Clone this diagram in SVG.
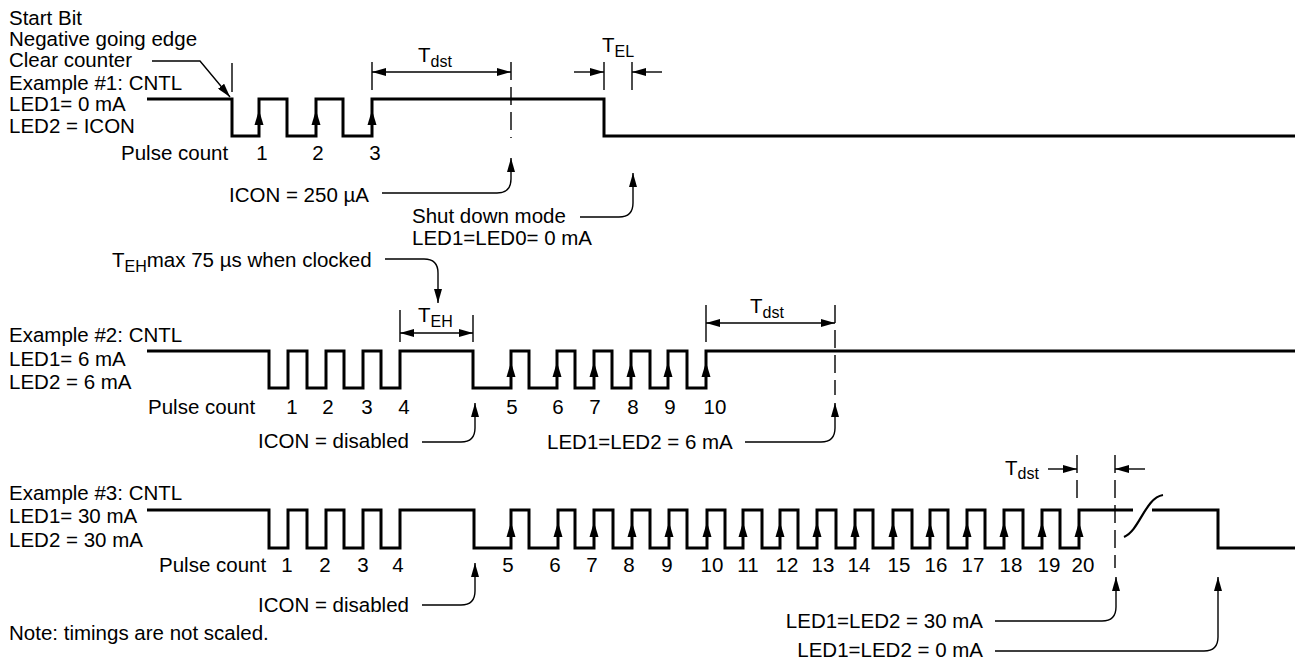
<svg xmlns="http://www.w3.org/2000/svg" width="1299" height="660" viewBox="0 0 1299 660">
<style>
text{font-family:"Liberation Sans",Arial,sans-serif;font-size:20.5px;fill:#000}
.sub{font-size:16px}
.num{text-anchor:middle}
.end{text-anchor:end}
.sig{fill:none;stroke:#000;stroke-width:3;stroke-linejoin:miter}
.thin{fill:none;stroke:#000;stroke-width:1.4}
.dash{fill:none;stroke:#000;stroke-width:1.4;stroke-dasharray:18 7}
.conn{fill:none;stroke:#000;stroke-width:1.4;marker-end:url(#ah)}
.dim{fill:none;stroke:#000;stroke-width:1.4;marker-start:url(#ah);marker-end:url(#ah)}
</style>
<defs>
<marker id="ah" viewBox="0 0 14 8" refX="14" refY="4" markerWidth="14" markerHeight="8" markerUnits="userSpaceOnUse" orient="auto-start-reverse">
<path d="M0,0 L14,4 L0,8 Z" fill="#000"/>
</marker>
<path id="up" d="M0,0 L-4.5,15 L4.5,15 Z" fill="#000"/>
</defs>
<rect width="1299" height="660" fill="#fff"/>

<g id="example1">
<text x="9" y="25">Start Bit</text>
<text x="9" y="46">Negative going edge</text>
<text x="9" y="67">Clear counter</text>
<text x="9" y="90">Example #1: CNTL</text>
<text x="9" y="111">LED1= 0 mA</text>
<text x="9" y="133">LED2 = ICON</text>
<path class="sig" d="M147,99 H232 V136 H259 V99 H287 V136 H316 V99 H343 V136 H372 V99 H604 V136 H1295"/>
<use href="#up" x="259" y="110"/><use href="#up" x="316" y="110"/><use href="#up" x="372" y="110"/>
<text x="121" y="160">Pulse count</text>
<text class="num" x="262" y="160">1</text>
<text class="num" x="318" y="160">2</text>
<text class="num" x="375" y="160">3</text>
<line class="thin" x1="232" y1="63" x2="232" y2="92"/>
<line class="thin" x1="372" y1="62" x2="372" y2="90"/>
<line class="dash" x1="511" y1="62" x2="511" y2="138"/>
<line class="thin" x1="604" y1="62" x2="604" y2="90"/>
<line class="thin" x1="632" y1="62" x2="632" y2="90"/>
<text x="418" y="62">T<tspan class="sub" dy="5">dst</tspan></text>
<text x="602" y="52">T<tspan class="sub" dy="5">EL</tspan></text>
<text x="229" y="202">ICON = 250 µA</text>
<text x="412" y="223">Shut down mode</text>
<text x="412" y="245">LED1=LED0= 0 mA</text>
</g>

<g id="example2">
<text x="112" y="267">T<tspan class="sub" dy="5">EH</tspan><tspan dy="-5">max 75 µs when clocked</tspan></text>
<text x="9" y="342">Example #2: CNTL</text>
<text x="9" y="366">LED1= 6 mA</text>
<text x="9" y="389">LED2 = 6 mA</text>
<path class="sig" d="M147,351 H269 V388 H288 V351 H307 V388 H326 V351 H344 V388 H363 V351 H381 V388 H400 V351 H473 V388 H511 V351 H529 V388 H557 V351 H575 V388 H594 V351 H612 V388 H631 V351 H650 V388 H668 V351 H687 V388 H706 V351 H1295"/>
<use href="#up" x="511" y="362"/><use href="#up" x="557" y="362"/><use href="#up" x="594" y="362"/><use href="#up" x="631" y="362"/><use href="#up" x="668" y="362"/><use href="#up" x="706" y="362"/>
<text x="148" y="414">Pulse count</text>
<text class="num" x="292" y="414">1</text>
<text class="num" x="328" y="414">2</text>
<text class="num" x="367" y="414">3</text>
<text class="num" x="404" y="414">4</text>
<text class="num" x="512" y="414">5</text>
<text class="num" x="558" y="414">6</text>
<text class="num" x="595" y="414">7</text>
<text class="num" x="633" y="414">8</text>
<text class="num" x="670" y="414">9</text>
<text class="num" x="715" y="414">10</text>
<line class="thin" x1="400" y1="310" x2="400" y2="342"/>
<line class="thin" x1="473" y1="315" x2="473" y2="342"/>
<text x="418" y="322">T<tspan class="sub" dy="5">EH</tspan></text>
<line class="thin" x1="706" y1="305" x2="706" y2="342"/>
<line class="dash" x1="835" y1="305" x2="835" y2="395"/>
<text x="750" y="313">T<tspan class="sub" dy="5">dst</tspan></text>
<text x="258" y="448">ICON = disabled</text>
<text x="547" y="449">LED1=LED2 = 6 mA</text>
</g>

<g id="example3">
<text x="9" y="500">Example #3: CNTL</text>
<text x="9" y="523">LED1= 30 mA</text>
<text x="9" y="547">LED2 = 30 mA</text>
<path class="sig" d="M147,510 H269 V548 H288 V510 H307 V548 H326 V510 H344 V548 H363 V510 H381 V548 H400 V510 H474 V548 H511 V510 H529 V548 H558 V510 H575 V548 H594 V510 H613 V548 H632 V510 H650 V548 H669 V510 H687 V548 H707 V510 H725 V548 H743 V510 H762 V548 H780 V510 H798 V548 H817 V510 H836 V548 H855 V510 H873 V548 H893 V510 H912 V548 H930 V510 H948 V548 H967 V510 H985 V548 H1004 V510 H1023 V548 H1042 V510 H1060 V548 H1079 V510 H1133"/>
<path class="sig" d="M1152,510 H1218 V548 H1295"/>
<path fill="none" stroke="#000" stroke-width="2.2" d="M1124,537 C1140,530 1145,498 1163,495"/>
<use href="#up" x="511" y="522"/><use href="#up" x="558" y="522"/><use href="#up" x="594" y="522"/><use href="#up" x="632" y="522"/><use href="#up" x="669" y="522"/><use href="#up" x="707" y="522"/><use href="#up" x="743" y="522"/><use href="#up" x="780" y="522"/><use href="#up" x="817" y="522"/><use href="#up" x="855" y="522"/><use href="#up" x="893" y="522"/><use href="#up" x="930" y="522"/><use href="#up" x="967" y="522"/><use href="#up" x="1004" y="522"/><use href="#up" x="1042" y="522"/><use href="#up" x="1079" y="522"/>
<text x="159" y="572">Pulse count</text>
<text class="num" x="287" y="572">1</text>
<text class="num" x="325" y="572">2</text>
<text class="num" x="363" y="572">3</text>
<text class="num" x="398" y="572">4</text>
<text class="num" x="508" y="572">5</text>
<text class="num" x="555" y="572">6</text>
<text class="num" x="592" y="572">7</text>
<text class="num" x="629" y="572">8</text>
<text class="num" x="667" y="572">9</text>
<text class="num" x="712" y="572">10</text>
<text class="num" x="748" y="572">11</text>
<text class="num" x="787" y="572">12</text>
<text class="num" x="823" y="572">13</text>
<text class="num" x="859" y="572">14</text>
<text class="num" x="899" y="572">15</text>
<text class="num" x="936" y="572">16</text>
<text class="num" x="973" y="572">17</text>
<text class="num" x="1011" y="572">18</text>
<text class="num" x="1049" y="572">19</text>
<text class="num" x="1083" y="572">20</text>
<line class="dash" x1="1077" y1="455" x2="1077" y2="502"/>
<line class="dash" x1="1115" y1="455" x2="1115" y2="568"/>
<text x="1005" y="475">T<tspan class="sub" dy="4">dst</tspan></text>
<text x="258" y="612">ICON = disabled</text>
<text class="end" x="983" y="628">LED1=LED2 = 30 mA</text>
<text class="end" x="983" y="657">LED1=LED2 = 0 mA</text>
<text x="9" y="640">Note: timings are not scaled.</text>
</g>

<g id="connectors">
<path class="conn" d="M152,61 H200 L230,97"/>
<path class="dim" d="M372,72 H511"/>
<path class="conn" d="M574,72 H604"/>
<path class="conn" d="M662,72 H632"/>
<path class="conn" d="M382,193 H497 Q511,193 511,179 V158"/>
<path class="conn" d="M580,217 H619 Q633,217 633,203 V173"/>
<path class="conn" d="M385,259 H424 Q438,259 438,273 V303"/>
<path class="dim" d="M400,333 H473"/>
<path class="dim" d="M706,323 H835"/>
<path class="conn" d="M422,442 H461 Q475,442 475,428 V403"/>
<path class="conn" d="M745,442 H821 Q835,442 835,428 V403"/>
<path class="conn" d="M422,605 H461 Q475,605 475,591 V563"/>
<path class="conn" d="M1048,469 H1077"/>
<path class="conn" d="M1145,469 H1115"/>
<path class="conn" d="M995,621 H1102 Q1116,621 1116,607 V577"/>
<path class="conn" d="M995,651 H1204 Q1218,651 1218,637 V577"/>
</g>
</svg>
